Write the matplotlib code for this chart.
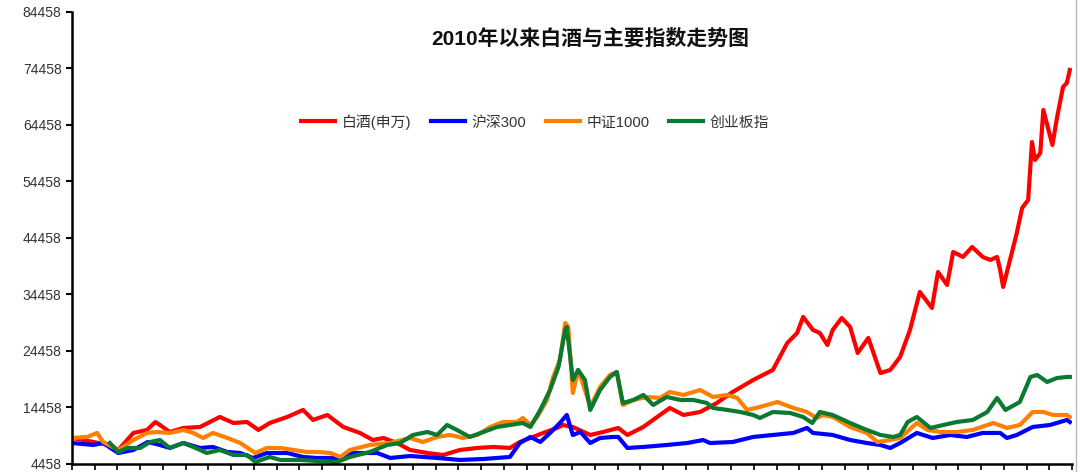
import numpy as np
import matplotlib
matplotlib.use("Agg")
import matplotlib.pyplot as plt
from matplotlib.lines import Line2D

plt.rcParams['font.family'] = ['Liberation Sans', 'Noto Sans CJK SC', 'DejaVu Sans']

# months since Jan 2010, index values
baijiu_m = [0, 2.8, 5.0, 6.1, 8.1, 9.9, 11.0, 11.6, 12.9, 14.7, 16.9, 18.2, 19.5, 21.3, 23.1, 24.6,
            26.1, 28.4, 30.5, 31.8, 33.7, 35.8, 38.0, 39.7, 41.1, 42.9, 44.6, 46.9, 49.0, 51.2, 53.5,
            55.6, 57.8, 59.1, 60.5, 62.2, 64.0, 64.8, 66.1, 68.4, 70.1, 72.1, 73.3, 75.4, 77.6, 78.9,
            80.7, 82.9, 85.1, 87.2, 89.9, 92.5, 94.4, 95.7, 96.5, 97.8, 98.7, 99.7, 100.4, 101.6,
            102.7, 103.7, 105.1, 106.7, 108.0, 109.3, 110.6, 111.9, 113.5, 114.3, 115.5, 116.3,
            117.6, 118.8, 120.2, 121.2, 122.1, 122.5, 122.9, 123.8, 124.7, 125.4, 126.2, 126.7,
            127.1, 127.8, 128.2, 129.4, 130.0, 130.8, 131.3, 131.7]
baijiu_v = [9060, 8350, 7820, 6940, 9950, 10480, 11890, 11360, 10120, 10830, 11010, 11890, 12780,
            11710, 11890, 10480, 11710, 12780, 14020, 12250, 13130, 11010, 9950, 8700, 9060, 8170,
            6940, 6400, 6050, 6940, 7290, 7470, 7290, 8350, 9060, 9950, 10830, 11360, 11010, 9590,
            10120, 10830, 9590, 11010, 13130, 14370, 13130, 13660, 15250, 17200, 19320, 21100, 25870,
            27640, 30480, 28180, 27640, 25520, 28180, 30300, 28700, 24100, 26760, 20560, 21100,
            23400, 28180, 34900, 32070, 38440, 36140, 41980, 41100, 42870, 41100, 40570, 41100,
            38800, 35790, 40570, 45340, 49770, 51190, 61450, 58270, 59500, 67120, 60920, 65700,
            71190, 71890, 74200]

hs300_m = [0, 2.8, 4.1, 6.1, 8.1, 10.0, 11.6, 12.9, 14.7, 16.9, 18.6, 20.5, 22.2, 23.9, 25.7, 28.4,
           30.5, 32.3, 35.0, 37.1, 40.3, 42.0, 44.6, 48.2, 51.2, 54.3, 57.8, 59.1, 60.5, 61.8, 63.1,
           64.4, 65.3, 66.1, 67.1, 68.4, 69.7, 71.4, 72.1, 73.3, 75.4, 78.5, 81.2, 83.3, 84.2, 87.2,
           89.9, 92.5, 95.2, 97.0, 97.8, 100.4, 102.7, 104.9, 106.7, 108.0, 109.3, 111.5, 113.6,
           115.9, 118.1, 120.2, 122.5, 123.4, 124.7, 126.8, 129.1, 131.3, 131.7]
hs300_v = [8170, 7820, 8170, 6400, 6940, 8350, 7820, 7290, 8170, 7290, 7470, 6580, 6400, 5520, 6400,
           6400, 5700, 5520, 5520, 6400, 6400, 5520, 5870, 5520, 5170, 5340, 5700, 8170, 9240, 8350,
           9950, 11710, 13130, 9590, 10120, 8170, 9060, 9240, 9240, 7290, 7470, 7820, 8170, 8700,
           8170, 8350, 9240, 9590, 9950, 10830, 9950, 9590, 8700, 8170, 7820, 7290, 8170, 9950,
           9060, 9590, 9240, 9950, 9950, 9060, 9590, 11010, 11360, 12250, 11890]

zz1000_m = [0, 2.0, 3.3, 4.1, 6.1, 8.1, 9.9, 11.2, 12.9, 14.7, 16.0, 17.3, 18.6, 20.5, 22.2, 24.2,
            25.7, 27.5, 29.2, 31.0, 32.3, 34.1, 35.4, 36.7, 39.3, 42.0, 44.6, 46.3, 48.2, 49.9, 51.6,
            53.5, 55.2, 56.9, 58.7, 59.5, 60.5, 61.4, 62.7, 63.5, 64.4, 65.1, 65.5, 66.1, 66.8, 67.4,
            68.4, 69.7, 71.0, 71.9, 72.7, 74.1, 75.9, 77.6, 78.9, 80.7, 82.9, 84.6, 86.5, 87.8, 89.1,
            90.8, 93.1, 95.2, 97.0, 98.3, 99.1, 100.4, 102.7, 104.9, 106.3, 108.0, 109.3, 111.5,
            112.9, 114.6, 116.8, 118.9, 121.6, 123.4, 125.1, 126.8, 128.2, 129.5, 131.3, 131.7]
zz1000_v = [9060, 9240, 9950, 8350, 6940, 8700, 9950, 10120, 9950, 10480, 9950, 9060, 9950, 9060,
            8170, 6400, 7290, 7290, 6940, 6580, 6580, 6400, 5700, 6940, 7820, 8170, 9060, 8350, 9240,
            9590, 9060, 9590, 11010, 11890, 11890, 12600, 11360, 12780, 15790, 19860, 22870, 29420,
            28700, 17020, 21100, 18790, 14550, 18090, 20210, 20740, 14900, 15790, 16320, 16140,
            17200, 16670, 17560, 16320, 16670, 16140, 14020, 14550, 15430, 14370, 13660, 12600,
            13130, 12780, 11010, 9950, 8350, 8700, 9060, 11710, 10480, 10120, 10120, 10480, 11710,
            10830, 11360, 13660, 13660, 13130, 13130, 12780]

cyb_m = [5.0, 6.1, 7.3, 9.0, 10.3, 11.6, 12.9, 14.7, 16.0, 17.8, 19.5, 21.3, 23.1, 24.2, 26.1, 27.5,
         30.1, 32.3, 35.0, 36.7, 39.3, 41.6, 43.3, 45.0, 46.9, 48.2, 49.5, 50.8, 52.5, 54.3, 56.1,
         57.8, 59.5, 60.5, 61.8, 63.1, 64.2, 65.1, 65.3, 66.1, 66.8, 67.7, 68.4, 69.7, 71.0, 71.9,
         72.7, 74.1, 75.4, 76.7, 78.5, 80.3, 82.0, 83.8, 84.6, 86.5, 88.2, 89.9, 90.8, 92.5, 94.8,
         96.5, 97.7, 98.7, 100.4, 102.7, 104.9, 106.7, 108.4, 109.3, 110.3, 111.5, 113.3, 115.0,
         116.8, 118.9, 120.8, 122.1, 123.2, 125.1, 126.5, 127.4, 128.7, 130.0, 131.3, 131.7]
cyb_v = [8170, 6580, 7290, 7290, 8350, 8700, 7290, 8170, 7470, 6400, 6940, 6050, 6050, 4810, 5700,
         5170, 5170, 4990, 4810, 5700, 6580, 7820, 8170, 9590, 10120, 9590, 11360, 10480, 9240,
         10120, 11010, 11360, 11710, 11010, 14020, 17560, 21630, 28180, 28700, 19320, 21100, 19320,
         14020, 17560, 19860, 20740, 15250, 15790, 16670, 14900, 16320, 15790, 15790, 15250, 14370,
         14020, 13660, 13130, 12600, 13660, 13480, 12780, 11710, 13660, 13130, 11710, 10480, 9590,
         9240, 9590, 11890, 12780, 10830, 11360, 11890, 12250, 13660, 16140, 14020, 15430, 19860,
         20210, 18970, 19670, 19860, 19860]

labels = ['白酒(申万)', '沪深300', '中证1000', '创业板指']
colors = ['#ff0000', '#0000ff', '#ff8000', '#0a7a32']
yticks = np.arange(4458, 84459, 10000)

fig = plt.figure(figsize=(10.8, 4.72), dpi=100)
ax = fig.add_axes([0.0667, 0.017, 0.926, 0.9576])

series = [(baijiu_m, baijiu_v), (hs300_m, hs300_v), (zz1000_m, zz1000_v), (cyb_m, cyb_v)]
for (m, v), lab, c in zip(series, labels, colors):
    ax.plot(m, v, color=c, lw=3.0, label=lab, solid_joinstyle='round')

ax.set_xlim(0, 132)
ax.set_ylim(4458, 84458)
ax.set_yticks(yticks)
ax.set_yticklabels([str(t) for t in yticks])
ax.set_xticks(np.arange(0, 133, 3))
ax.set_xticklabels([])
ax.tick_params(axis='y', labelsize=10, labelcolor='#333333', length=4, width=1.5, direction='out')
ax.tick_params(axis='x', length=4, width=1.2, direction='out')
for s in ['top', 'right']:
    ax.spines[s].set_visible(False)
for s in ['left', 'bottom']:
    ax.spines[s].set_linewidth(1.8)

ax.text(0.518, 0.942, '2010年以来白酒与主要指数走势图', transform=ax.transAxes,
        ha='center', va='center', fontsize=15, fontweight='bold', color='#111111')

ax.legend(loc='center', bbox_to_anchor=(0.463, 0.757), ncol=4, frameon=False,
          fontsize=10.7, handlelength=2.3, handletextpad=0.45, columnspacing=1.3,
          labelcolor='#333333')

fig.add_artist(Line2D([0.9963, 0.9963], [0, 1], color='#bbbbbb', lw=1))

fig.savefig('out.png', dpi=100)
